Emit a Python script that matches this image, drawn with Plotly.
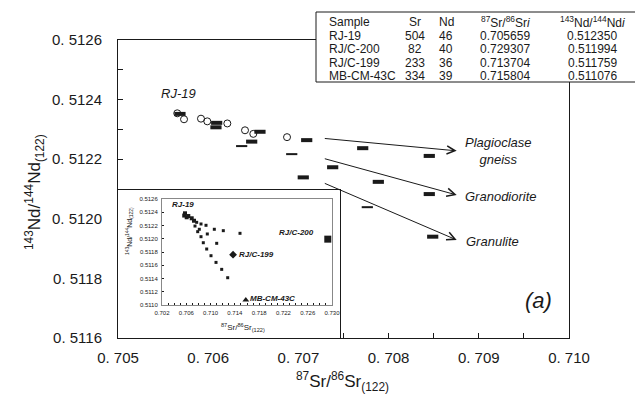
import plotly.graph_objects as go

# ---------------- data ----------------
# open circles (samples) in main panel
sample_x = [0.705657, 0.705732, 0.705920, 0.705990, 0.706212, 0.706408, 0.706500, 0.706874]
sample_y = [0.512354, 0.512334, 0.512336, 0.512327, 0.512320, 0.512297, 0.512285, 0.512274]

# mixing model points (black bars) in main panel
gneiss_x = [0.705687, 0.706574, 0.707092, 0.707713, 0.708451]
gneiss_y = [0.512352, 0.512292, 0.512264, 0.512237, 0.512211]
granodiorite_x = [0.706086, 0.706482, 0.706926, 0.707380, 0.707886, 0.708451]
granodiorite_y = [0.512307, 0.512259, 0.512217, 0.512173, 0.512124, 0.512083]
granulite_x = [0.706094, 0.706371, 0.707054, 0.707764, 0.708489]
granulite_y = [0.512322, 0.512244, 0.512139, 0.512039, 0.511940]

# table of end-members
table_samples = ["RJ-19", "RJ/C-200", "RJ/C-199", "MB-CM-43C"]
table_sr = [504, 82, 233, 334]
table_nd = [46, 40, 36, 39]
table_sr_ratio = [0.705659, 0.729307, 0.713704, 0.715804]
table_nd_ratio = [0.512350, 0.511994, 0.511759, 0.511076]

# inset: mixing curves
inset_rj19_x = [0.705659, 0.705788, 0.706068, 0.706332, 0.706892, 0.707271]
inset_rj19_y = [0.512350, 0.512384, 0.512324, 0.512343, 0.512309, 0.512272]
inset_mix200_x = [0.707714, 0.708424, 0.709247, 0.710617, 0.712097, 0.714847]
inset_mix200_y = [0.512248, 0.512223, 0.512203, 0.512143, 0.512122, 0.512082]
inset_mix199_x = [0.707435, 0.708144, 0.709462, 0.711010]
inset_mix199_y = [0.512192, 0.512143, 0.512072, 0.511931]
inset_mix43_x = [0.707880, 0.708424, 0.708803, 0.709363, 0.710071, 0.710895, 0.711833, 0.712821]
inset_mix43_y = [0.512107, 0.512031, 0.511940, 0.511845, 0.511744, 0.511643, 0.511538, 0.511412]

# axis ticks
main_x_ticks = [0.705, 0.706, 0.707, 0.708, 0.709, 0.710]
main_x_ticktext = ["0. 705", "0. 706", "0. 707", "0. 708", "0. 709", "0. 710"]
main_y_ticks = [0.5116, 0.5118, 0.5120, 0.5122, 0.5124, 0.5126]
main_y_ticktext = ["0. 5116", "0. 5118", "0. 5120", "0. 5122", "0. 5124", "0. 5126"]
inset_x_ticks = [0.702, 0.706, 0.710, 0.714, 0.718, 0.722, 0.726, 0.730]
inset_y_ticks = [0.5110, 0.5112, 0.5114, 0.5116, 0.5118, 0.5120, 0.5122, 0.5124, 0.5126]

# ---------------- layout helpers ----------------
PAGE_OFF = 8            # default body margin of the html page
W, H = 643 - PAGE_OFF, 400 - PAGE_OFF
L, R, T, B = 118, 569, 40, 338   # plot area in screen pixels


def px(xp):
    return (xp - L) / (R - L)


def py(yp):
    return (B - yp) / (B - T)


FONT = "Liberation Sans, Arial, sans-serif"
INK = "#1a1a1a"

fig = go.Figure()

# main panel traces
fig.add_trace(go.Scatter(x=gneiss_x, y=gneiss_y, mode="markers",
                         marker=dict(symbol="line-ew", size=8, line=dict(color=INK, width=4)),
                         showlegend=False, hoverinfo="skip"))
fig.add_trace(go.Scatter(x=granodiorite_x, y=granodiorite_y, mode="markers",
                         marker=dict(symbol="line-ew", size=8,
                                     line=dict(color=INK, width=[4, 4, 2, 4, 4, 4])),
                         showlegend=False, hoverinfo="skip"))
fig.add_trace(go.Scatter(x=granulite_x, y=granulite_y, mode="markers",
                         marker=dict(symbol="line-ew", size=8,
                                     line=dict(color=INK, width=[4, 2, 4, 2, 4])),
                         showlegend=False, hoverinfo="skip"))
fig.add_trace(go.Scatter(x=sample_x, y=sample_y, mode="markers",
                         marker=dict(symbol="circle-open", size=7, color=INK, line=dict(width=1)),
                         showlegend=False, hoverinfo="skip"))

# outer inset frame (empty subplot with white background)
fig.add_trace(go.Scatter(x=[], y=[], xaxis="x2", yaxis="y2", showlegend=False))

# inset traces
for xs, ys, sz in [(inset_rj19_x, inset_rj19_y, 4), (inset_mix200_x, inset_mix200_y, 3),
                   (inset_mix199_x, inset_mix199_y, 3), (inset_mix43_x, inset_mix43_y, 3)]:
    fig.add_trace(go.Scatter(x=xs, y=ys, mode="markers", xaxis="x3", yaxis="y3",
                             marker=dict(symbol="square", size=sz, color=INK),
                             showlegend=False, hoverinfo="skip"))
fig.add_trace(go.Scatter(x=[table_sr_ratio[1]], y=[table_nd_ratio[1]], mode="markers",
                         xaxis="x3", yaxis="y3",
                         marker=dict(symbol="square", size=7, color=INK), showlegend=False))
fig.add_trace(go.Scatter(x=[table_sr_ratio[2]], y=[table_nd_ratio[2]], mode="markers",
                         xaxis="x3", yaxis="y3",
                         marker=dict(symbol="diamond", size=6, color=INK), showlegend=False))
fig.add_trace(go.Scatter(x=[table_sr_ratio[3]], y=[table_nd_ratio[3]], mode="markers",
                         xaxis="x3", yaxis="y3",
                         marker=dict(symbol="triangle-up", size=6, color=INK), showlegend=False))

annotations = []


def txt(text, x, y, size, xanchor="center", angle=0, xref="paper", yref="paper", align="center"):
    annotations.append(dict(text=text, xref=xref, yref=yref, x=x, y=y, xanchor=xanchor,
                            yanchor="middle", showarrow=False, textangle=angle, align=align,
                            font=dict(size=size, color=INK)))


# axis titles (main)
txt("<sup>87</sup>Sr/<sup>86</sup>Sr<sub>(122)</sub>", px(342), py(381), 17)
txt("<sup>143</sup>Nd/<sup>144</sup>Nd<sub>(122)</sub>", px(35), py(192), 17, angle=-90)
# labels in main panel
txt("<i>RJ-19</i>", px(178), py(93), 13)
txt("<i>Plagioclase<br>gneiss</i>", px(498), py(151), 13)
txt("<i>Granodiorite</i>", px(463), py(196), 13, xanchor="left")
txt("<i>Granulite</i>", px(464), py(241), 13, xanchor="left")
txt("<i>(a)</i>", px(538), py(300), 22)

# arrows
arrows = [((0.707276, 0.512270), (0.708755, 0.512228)),
          ((0.707276, 0.512203), (0.708755, 0.512080)),
          ((0.707276, 0.512121), (0.708755, 0.511929))]
for (x0, y0), (x1, y1) in arrows:
    annotations.append(dict(text="", x=x1, y=y1, ax=x0, ay=y0, xref="x", yref="y", axref="x", ayref="y",
                            showarrow=True, arrowhead=5, arrowsize=1.6, arrowwidth=1, arrowcolor=INK,
                            standoff=0, startstandoff=0))

# table
hdr_y = 22
row_dy = 13.5
col_name, col_sr, col_nd, col_srr, col_ndr = 327, 415, 446, 505, 592
hdr = [("Sample", col_name, "left"), ("Sr", col_sr, "center"), ("Nd", col_nd, "center"),
       ("<sup>87</sup>Sr/<sup>86</sup>Sr<i>i</i>", col_srr, "center"),
       ("<sup>143</sup>Nd/<sup>144</sup>Nd<i>i</i>", col_ndr, "center")]
for t, xpos, anc in hdr:
    txt(t, px(xpos), py(hdr_y), 12, xanchor=anc)
for i in range(len(table_samples)):
    yy = py(hdr_y + row_dy * (i + 1))
    vals = [(table_samples[i], col_name, "left"), (str(table_sr[i]), col_sr, "center"),
            (str(table_nd[i]), col_nd, "center"), (f"{table_sr_ratio[i]:.6f}", col_srr, "center"),
            (f"{table_nd_ratio[i]:.6f}", col_ndr, "center")]
    for t, xpos, anc in vals:
        txt(t, px(xpos), yy, 12, xanchor=anc)

# inset labels
txt("<i><b>RJ-19</b></i>", 0.7055, 0.51251, 8, xref="x3", yref="y3")
txt("<i><b>RJ/C-200</b></i>", 0.7242, 0.51210, 8, xref="x3", yref="y3")
txt("<i><b>RJ/C-199</b></i>", 0.7143, 0.51176, 8, xanchor="left", xref="x3", yref="y3")
txt("<i><b>MB-CM-43C</b></i>", 0.7162, 0.51110, 8, xanchor="left", xref="x3", yref="y3")
txt("<sup>87</sup>Sr/<sup>86</sup>Sr<sub>(122)</sub>", px(243), py(327), 8)
txt("<sup>143</sup>Nd/<sup>144</sup>Nd<sub>(122)</sub>", px(129), py(231), 7, angle=-90)

shapes = [dict(type="rect", xref="paper", yref="paper", x0=px(316), x1=px(640), y0=py(12), y1=py(82),
               line=dict(color=INK, width=1), fillcolor="white", layer="above")]

fig.update_layout(
    width=W, height=H,
    margin=dict(l=L - PAGE_OFF, r=W - (R - PAGE_OFF), t=T - PAGE_OFF, b=H - (B - PAGE_OFF), autoexpand=False),
    paper_bgcolor="white", plot_bgcolor="white",
    font=dict(family=FONT, color=INK),
    showlegend=False,
    xaxis=dict(domain=[0, 1], range=[0.705, 0.710], tickvals=main_x_ticks, ticktext=main_x_ticktext,
               ticks="inside", ticklen=5, tickcolor=INK, showline=True, linecolor=INK, linewidth=1,
               mirror=True, showgrid=False, zeroline=False, tickfont=dict(size=15, color=INK),
               ticklabelstandoff=6, automargin=False,
               minor=dict(tickvals=[0.7055, 0.7065, 0.7075, 0.7085, 0.7095], ticks="inside", ticklen=5,
                          tickcolor=INK)),
    yaxis=dict(domain=[0, 1], range=[0.5116, 0.5126], tickvals=main_y_ticks, ticktext=main_y_ticktext,
               ticks="inside", ticklen=5, tickcolor=INK, showline=True, linecolor=INK, linewidth=1,
               mirror=True, showgrid=False, zeroline=False, tickfont=dict(size=15, color=INK),
               ticklabelstandoff=12, automargin=False,
               minor=dict(tickvals=[0.5117, 0.5119, 0.5121, 0.5123, 0.5125], ticks="inside", ticklen=5,
                          tickcolor=INK)),
    xaxis2=dict(domain=[0, px(340)], anchor="y2", range=[0, 1], showline=True, mirror=True,
                linecolor=INK, linewidth=1, showticklabels=False, ticks="", showgrid=False, zeroline=False),
    yaxis2=dict(domain=[0, py(190)], anchor="x2", range=[0, 1], showline=True, mirror=True,
                linecolor=INK, linewidth=1, showticklabels=False, ticks="", showgrid=False, zeroline=False),
    xaxis3=dict(domain=[px(162), px(332)], anchor="y3", range=[0.702, 0.730], tickvals=inset_x_ticks,
                ticktext=[f"{v:.3f}" for v in inset_x_ticks], ticks="inside", ticklen=2, tickcolor=INK,
                showline=True, mirror=True, linecolor="#888888", linewidth=1, showgrid=False,
                zeroline=False, tickfont=dict(size=6, color=INK), ticklabelstandoff=2,
                minor=dict(dtick=0.001, ticks="inside", ticklen=2, tickcolor=INK)),
    yaxis3=dict(domain=[py(305), py(199)], anchor="x3", range=[0.5110, 0.5126], tickvals=inset_y_ticks,
                ticktext=[f"{v:.4f}" for v in inset_y_ticks], ticks="inside", ticklen=2, tickcolor=INK,
                showline=True, mirror=True, linecolor="#888888", linewidth=1, showgrid=False,
                zeroline=False, tickfont=dict(size=6, color=INK), ticklabelstandoff=2),
    annotations=annotations,
    shapes=shapes,
)

fig.write_html("out.html")
